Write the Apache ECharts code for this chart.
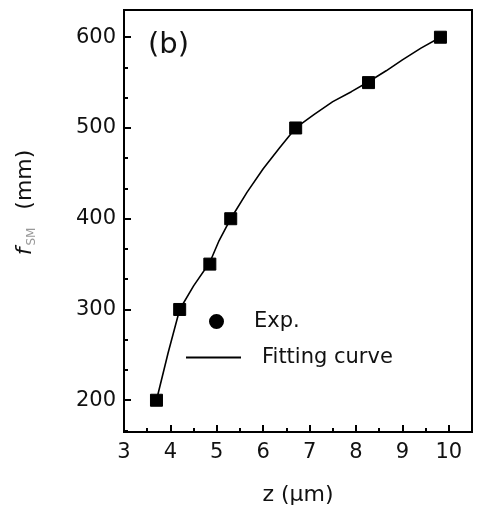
<!DOCTYPE html>
<html>
<head>
<meta charset="utf-8">
<script src="https://cdn.jsdelivr.net/npm/echarts@6/dist/echarts.min.js"></script>
<style>html,body{margin:0;padding:0;background:#fff;}#c{width:481px;height:511px;}</style>
</head>
<body>
<div id="c"></div>
<script>
const expZ = [3.7, 4.2, 4.85, 5.3, 6.7, 8.27, 9.82];
const expF = [200, 300, 350, 400, 500, 550, 600];
const fitZ = [3.7, 3.95, 4.2, 4.5, 4.85, 5.05, 5.3, 5.65, 6.0, 6.35, 6.7, 7.1, 7.5, 7.9, 8.27, 8.65, 9.0, 9.4, 9.82];
const fitF = [200, 252, 300, 326, 352, 376, 400, 429, 455, 478, 500, 515, 529, 540, 551, 563, 575, 588, 600];
const xTicks = [3, 4, 5, 6, 7, 8, 9, 10];
const yTicks = [200, 300, 400, 500, 600];
const yMinor = [];
yTicks.forEach(v => { yMinor.push(v - 100 / 3 * 2, v - 100 / 3); });
yMinor.push(600 + 100 / 3);

const chart = echarts.init(document.getElementById('c'), null, {renderer: 'canvas'});
const font = 'DejaVu Sans';
const yCommon = {type: 'value', min: 165, max: 630, position: 'left', splitLine: {show: false}};
chart.setOption({
  animation: false,
  backgroundColor: '#fff',
  grid: {left: 124, top: 10, right: 9, bottom: 78, show: true, borderColor: '#000', borderWidth: 2, backgroundColor: 'transparent'},
  title: {text: '(b)', left: 143, top: 26, textStyle: {fontFamily: font, fontSize: 29, fontWeight: 'normal', color: '#111'}},
  legend: [
    {data: [{name: 'Exp.', icon: 'circle'}], left: 204, top: 306, orient: 'vertical', itemWidth: 55, itemHeight: 13,
     textStyle: {fontFamily: font, fontSize: 21, color: '#111', padding: [0, 0, 0, 5]}},
    {data: [{name: 'Fitting curve', icon: 'rect'}], left: 181, top: 342, orient: 'vertical', itemWidth: 55, itemHeight: 2,
     itemStyle: {color: '#000'},
     textStyle: {fontFamily: font, fontSize: 21, color: '#111', padding: [0, 0, 0, 16]}}
  ],
  xAxis: {
    type: 'value', min: 3, max: 10.5, interval: 1,
    name: 'z (μm)', nameLocation: 'middle', nameGap: 52,
    nameTextStyle: {fontFamily: font, fontSize: 22, color: '#111'},
    axisLine: {show: true, lineStyle: {color: '#000', width: 2}},
    axisTick: {show: true, inside: true, length: 7, lineStyle: {color: '#000', width: 2}},
    minorTick: {show: true, splitNumber: 2, length: 4, lineStyle: {color: '#000', width: 2}},
    splitLine: {show: false},
    axisLabel: {fontFamily: font, fontSize: 21, color: '#111', margin: 10,
      formatter: v => xTicks.includes(v) ? String(v) : ''}
  },
  yAxis: [
    Object.assign({}, yCommon, {
      name: '{f|f}{s|SM}{n|  (mm)}', nameLocation: 'middle', nameGap: 88, nameRotate: 90,
      nameTextStyle: {rich: {
        f: {fontFamily: font, fontSize: 22, fontStyle: 'italic', color: '#111', padding: [0, 0, 0, 37]},
        s: {fontFamily: font, fontSize: 12, color: '#999', verticalAlign: 'bottom', padding: [0, 4, -2, 2]},
        n: {fontFamily: font, fontSize: 22, color: '#111'}
      }},
      axisLine: {show: true, lineStyle: {color: '#000', width: 2}},
      axisTick: {show: true, inside: true, length: 7, customValues: yTicks, lineStyle: {color: '#000', width: 2}},
      axisLabel: {fontFamily: font, fontSize: 21, color: '#111', margin: 8, customValues: yTicks}
    }),
    Object.assign({}, yCommon, {
      axisLine: {show: false},
      axisTick: {show: true, inside: true, length: 4, customValues: yMinor, lineStyle: {color: '#000', width: 2}},
      axisLabel: {show: false}
    })
  ],
  series: [
    {name: 'Fitting curve', type: 'line', data: fitZ.map((z, i) => [z, fitF[i]]),
     smooth: false, showSymbol: false, symbol: 'none',
     lineStyle: {color: '#000', width: 1.6}, itemStyle: {color: '#000'}, z: 2},
    {name: 'Exp.', type: 'scatter', data: expZ.map((z, i) => [z, expF[i]]),
     symbol: 'square', symbolSize: 12,
     itemStyle: {color: '#000', borderColor: '#000', borderWidth: 1, opacity: 1}, z: 3}
  ]
});
</script>
</body>
</html>
